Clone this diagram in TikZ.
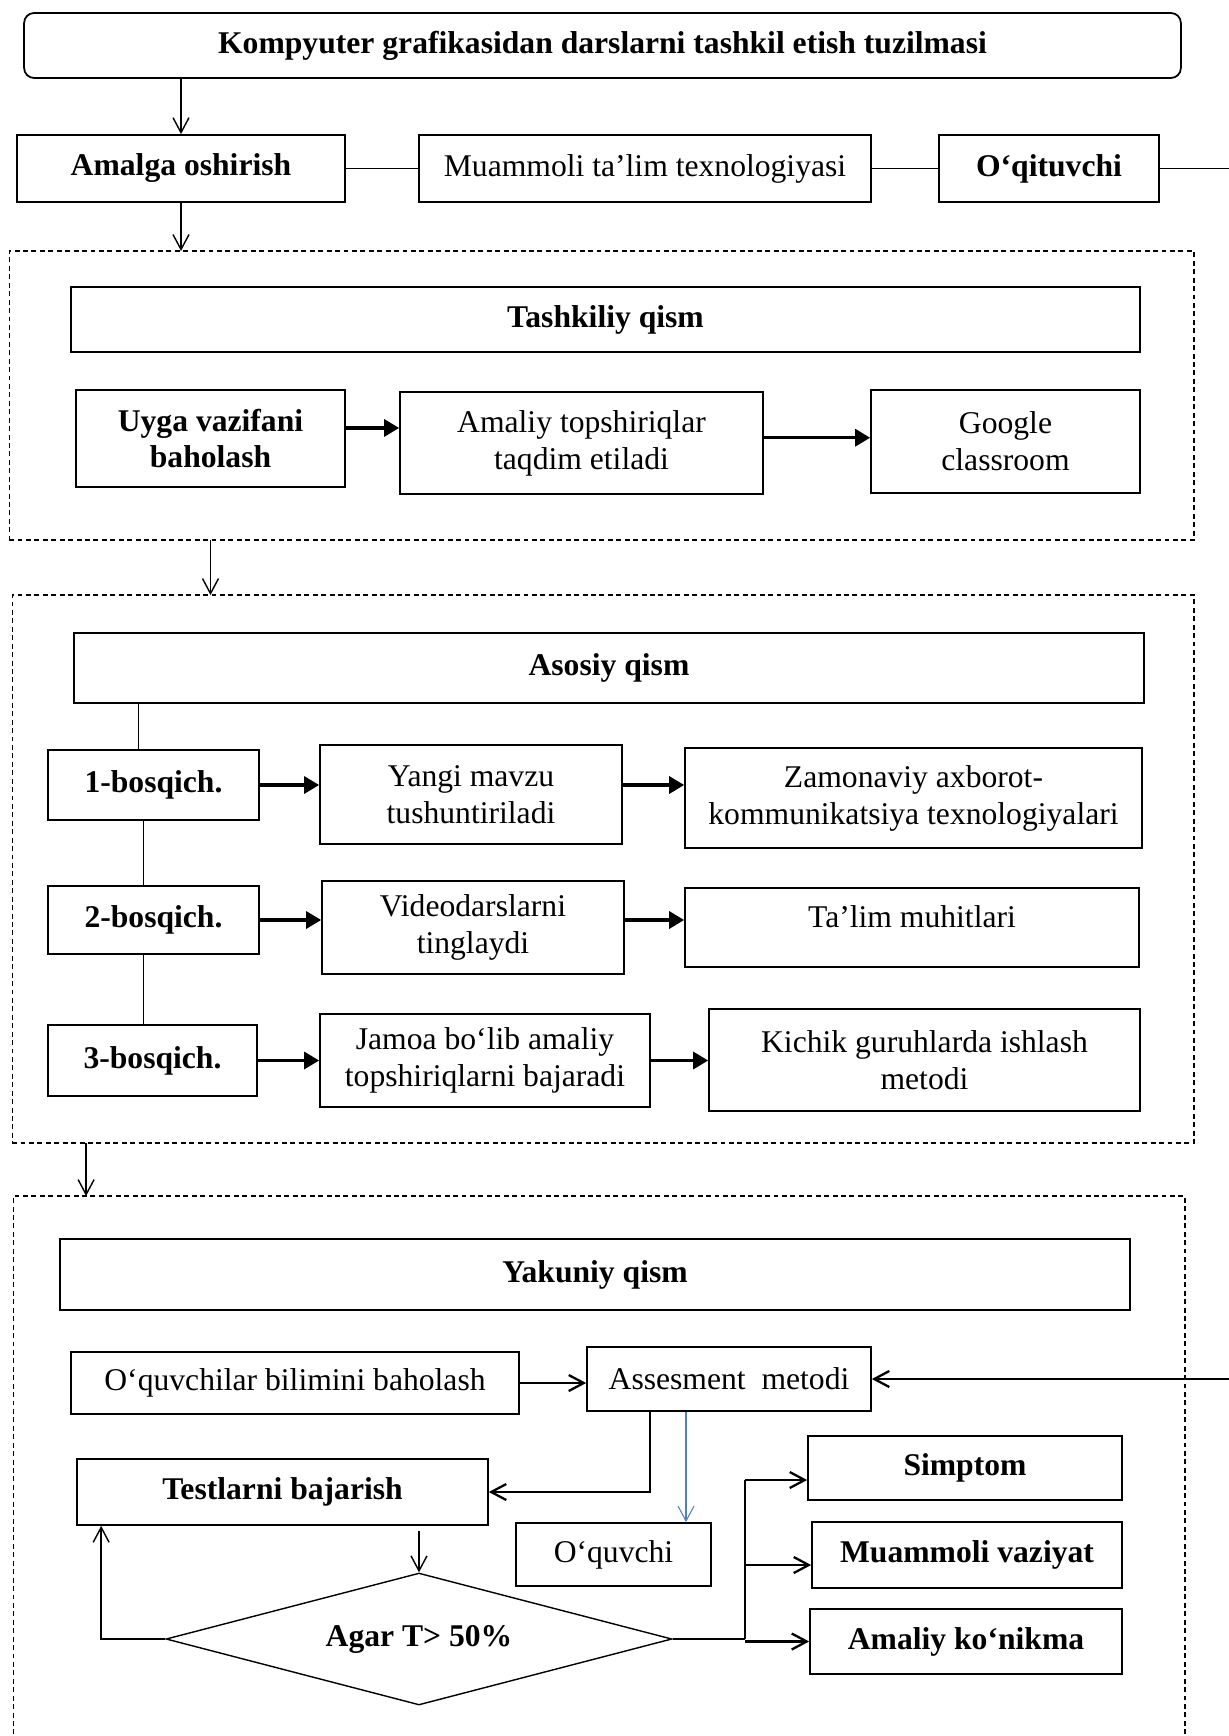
\documentclass[tikz,border=0pt]{standalone}
\usepackage{fontspec}
\setmainfont{Liberation Serif}
\usetikzlibrary{arrows.meta,shapes.geometric}

\definecolor{arrowblue}{RGB}{79,129,189}

\tikzset{
  box/.style={draw, line width=1pt, rectangle, align=center, inner sep=2pt,
    font=\fontsize{18}{21}\selectfont},
  bold box/.style={box, font=\fontsize{18}{21}\selectfont\bfseries},
  partframe/.style={draw, line width=0.7pt, dash pattern=on 2.8pt off 2pt,
    inner sep=0pt, outer sep=0pt},
  link line/.style={line width=1.1pt},
  thin line/.style={line width=0.6pt},
  arr/.style={->, line width=0.8pt},
  open arrow/.style={->, line width=1.3pt},
  blue arrow/.style={->, line width=0.6pt, draw=arrowblue},
  fat arrow/.style={line width=1.8pt, -{Triangle[length=3mm,width=3.4mm]}},
}

\begin{document}
\begin{tikzpicture}[x=0.02cm, y=-0.02cm, >={Straight Barb[length=3mm,width=3.2mm]}]
\useasboundingbox (0,0) rectangle (1229,1736);

% dashed parts
\node [partframe, minimum width=23.70cm, minimum height=5.78cm] (part1) at (601.5,395.5) {};
\node [partframe, minimum width=23.64cm, minimum height=10.96cm] (part2) at (603,869) {};
\node [partframe, minimum width=23.44cm, minimum height=11.28cm] (part3) at (599,1478) {};

% top
\node [bold box, rounded corners=0.2cm, minimum width=23.14cm, minimum height=1.3cm] (title) at (602.5,45.5)
  {Kompyuter grafikasidan darslarni tashkil etish tuzilmasi};
\node [bold box, minimum width=6.56cm, minimum height=1.34cm] (amalga) at (181,168.5) {Amalga oshirish};
\node [box, minimum width=9.04cm, minimum height=1.34cm] (muammoli) at (645,168.5) {Muammoli ta’lim texnologiyasi};
\node [bold box, minimum width=4.40cm, minimum height=1.34cm] (oqituvchi) at (1049,168.5) {O‘qituvchi};
\coordinate (edge1) at (1229,168.5);

% Tashkiliy qism
\node [bold box, minimum width=21.38cm, minimum height=1.30cm] (tashkiliy) at (605.5,319.5) {Tashkiliy qism};
\node [bold box, minimum width=5.38cm, minimum height=1.94cm] (uyga) at (210.5,438.5) {Uyga vazifani\\baholash};
\node [box, minimum width=7.26cm, minimum height=2.04cm] (amaliy) at (581.5,443) {Amaliy topshiriqlar\\taqdim etiladi};
\node [box, minimum width=5.38cm, minimum height=2.06cm] (google) at (1005.5,441.5) {Google\\classroom};

% Asosiy qism
\node [bold box, minimum width=21.40cm, minimum height=1.40cm] (asosiy) at (609,668) {Asosiy qism};
\node [bold box, minimum width=4.22cm, minimum height=1.40cm] (b1) at (153.5,785) {1-bosqich.};
\node [bold box, minimum width=4.22cm, minimum height=1.36cm] (b2) at (153.5,920) {2-bosqich.};
\node [bold box, minimum width=4.18cm, minimum height=1.42cm] (b3) at (152.5,1060.5) {3-bosqich.};
\node [box, minimum width=6.04cm, minimum height=1.98cm] (yangi) at (471,794.5) {Yangi mavzu\\tushuntiriladi};
\node [box, minimum width=6.04cm, minimum height=1.86cm] (video) at (473,927.5) {Videodarslarni\\tinglaydi};
\node [box, minimum width=6.60cm, minimum height=1.86cm] (jamoa) at (485,1060.5) {Jamoa bo‘lib amaliy\\topshiriqlarni bajaradi};
\node [box, minimum width=9.14cm, minimum height=2.00cm] (zamon) at (913.5,798) {Zamonaviy axborot-\\kommunikatsiya texnologiyalari};
\node [box, minimum width=9.08cm, minimum height=1.58cm, text depth=0.45cm] (talim) at (912,927.5) {Ta’lim muhitlari};
\node [box, minimum width=8.62cm, minimum height=2.04cm] (kichik) at (924.5,1060) {Kichik guruhlarda ishlash\\metodi};

% Yakuniy qism
\node [bold box, minimum width=21.40cm, minimum height=1.42cm] (yakuniy) at (595,1274.5) {Yakuniy qism};
\node [box, minimum width=8.96cm, minimum height=1.24cm] (oquvchilar) at (295,1383) {O‘quvchilar bilimini baholash};
\node [box, minimum width=5.68cm, minimum height=1.28cm] (assesment) at (729,1379) {Assesment~~metodi};
\node [bold box, minimum width=8.22cm, minimum height=1.32cm] (testlar) at (282.5,1492) {Testlarni bajarish};
\node [box, minimum width=3.90cm, minimum height=1.26cm] (oquvchi) at (613.5,1554.5) {O‘quvchi};
\node [draw, diamond, aspect=3.8, line width=0.8pt, inner sep=0pt, minimum width=10.12cm, minimum height=2.64cm,
  font=\fontsize{18}{21}\selectfont\bfseries] (agar) at (419,1639) {Agar T> 50\%};
\node [bold box, minimum width=6.28cm, minimum height=1.28cm] (simptom) at (965,1468) {Simptom};
\node [bold box, minimum width=6.20cm, minimum height=1.32cm] (muamvaz) at (967,1555) {Muammoli vaziyat};
\node [bold box, minimum width=6.24cm, minimum height=1.30cm] (amalkon) at (966,1641.5) {Amaliy ko‘nikma};
\coordinate (edge2) at (edge1 |- assesment.east);
\coordinate (split) at (745,1639);
\foreach \t/\d in {simptom/-0.24, muamvaz/-0.2, amalkon/0}
  \coordinate (in-\t) at ([yshift=\d cm]\t.west);

% connectors
\draw [arr] (amalga.north |- title.south) -- (amalga.north);
\foreach \a/\b in {amalga/muammoli, muammoli/oqituvchi, oqituvchi/edge1}
  \draw [link line] (\a) -- (\b);
\draw [arr] (amalga.south) -- (amalga.south |- part1.north);
\draw [fat arrow] ([yshift=6pt]uyga.east) -- ([yshift=6pt]uyga.east -| amaliy.west);
\draw [fat arrow] ([yshift=3pt]amaliy.east) -- ([yshift=3pt]amaliy.east -| google.west);
\draw [arr] (uyga.south |- part1.south) -- (uyga.south |- part2.north);

\draw [thin line] ([xshift=-0.3cm]b1.north) -- ([xshift=-0.3cm]b1.north |- asosiy.south);
\foreach \a/\b in {b1/b2, b2/b3}
  \draw [thin line] ([xshift=-0.2cm]\a.south) -- ([xshift=-0.2cm]\a.south |- \b.north);
\foreach \s/\m/\t in {b1/yangi/zamon, b2/video/talim, b3/jamoa/kichik} {
  \draw [fat arrow] (\s.east) -- (\s.east -| \m.west);
  \draw [fat arrow] (\s.east -| \m.east) -- (\s.east -| \t.west);
}
\draw [arr] ([xshift=1.48cm]part2.south west) -- ([xshift=1.48cm]part2.south west |- part3.north);

\draw [open arrow] (oquvchilar.east) -- (oquvchilar.east -| assesment.west);
\draw [open arrow] (edge2) -- (assesment.east);
\draw [open arrow] ([xshift=-1.58cm]assesment.south) |- (testlar.east);
\draw [blue arrow] ([xshift=-0.86cm]assesment.south) -- ([xshift=-0.86cm]assesment.south |- oquvchi.north);
\draw [arr] ([yshift=-0.1cm]testlar.south -| agar.north) -- (agar.north);
\draw [arr] (agar.west) -| ([xshift=0.5cm]testlar.south west);
\draw [thin line] (agar.east) -- (split);
\draw [link line] (split) -- (split |- in-simptom);
\foreach \t in {simptom, muamvaz, amalkon}
  \draw [open arrow] (split |- in-\t) -- (in-\t);

\end{tikzpicture}
\end{document}
